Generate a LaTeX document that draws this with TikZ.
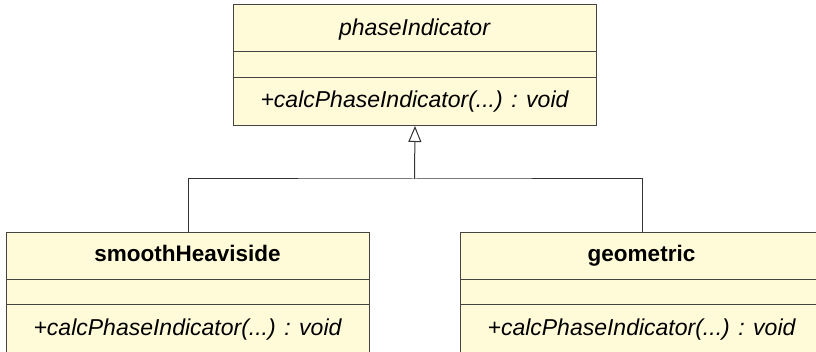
\documentclass[tikz,border=0pt]{standalone}
\usepackage{fontspec}
\setmainfont{Liberation Sans}
\usetikzlibrary{arrows.meta}
\definecolor{classfill}{RGB}{255,250,215}
\definecolor{classline}{RGB}{68,68,68}
\tikzset{
  classbox/.style={draw=classline, fill=classfill, line width=1pt, rectangle,
    minimum width=363pt, minimum height=121pt, inner sep=0pt, anchor=north west},
  abstractname/.style={font=\fontsize{23}{26}\selectfont\itshape, inner sep=0pt, anchor=base},
  concretename/.style={font=\fontsize{22.5}{26}\selectfont\bfseries, inner sep=0pt, anchor=base},
  opname/.style={font=\fontsize{23}{26}\selectfont\itshape, inner sep=0pt, anchor=base},
  divider/.style={draw=classline, line width=1pt},
  link/.style={draw=black!80, line width=1pt},
}
\begin{document}
\begin{tikzpicture}[x=1pt, y=-1pt]
  \useasboundingbox (0,0) rectangle (816,352);
  \clip (0,0) rectangle (816,352);

  % abstract base class
  \node[classbox] (base) at (233,4) {};
  \draw[divider] (233,52) -- (596,52);
  \draw[divider] (233,78) -- (596,78);
  \node[abstractname] (basename) at (414.5,36) {phaseIndicator};
  \node[opname] (baseop) at (414.5,107.5) {+calcPhaseIndicator(...) : void};

  % derived class: smoothHeaviside
  \node[classbox] (sh) at (6,232) {};
  \draw[divider] (6,280) -- (369,280);
  \draw[divider] (6,305) -- (369,305);
  \node[concretename] (shname) at (187.5,261.3) {smoothHeaviside};
  \node[opname] (shop) at (187.5,335.5) {+calcPhaseIndicator(...) : void};

  % derived class: geometric
  \node[classbox] (geo) at (460,232) {};
  \draw[divider] (460,280) -- (823,280);
  \draw[divider] (460,305) -- (823,305);
  \node[concretename] (geoname) at (641.5,261.3) {geometric};
  \node[opname] (geoop) at (641.5,335.5) {+calcPhaseIndicator(...) : void};

  % generalization links
  \coordinate (join) at (414.5,179);
  \draw[link] (sh.north) |- (join) -| (geo.north);
  \draw[link, -{Triangle[open, length=16pt, width=13pt, fill=white]}] (join) -- (base.south);
\end{tikzpicture}
\end{document}
